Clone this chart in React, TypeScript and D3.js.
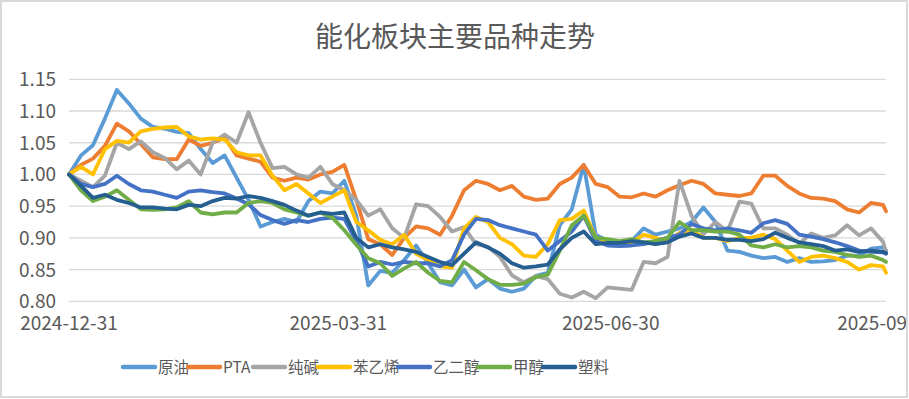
import React, { useMemo } from "react";
import * as d3 from "d3";

const WIDTH = 909;
const HEIGHT = 399;
const PLOT = { left: 69, right: 886, top: 79.3, bottom: 301.3 };
const FONT = "'Noto Sans CJK SC', 'Noto Sans', sans-serif";
const TEXT_COLOR = "#595959";
const GRID_COLOR = "#D9D9D9";

// sample dates (every 4 days)
const dates = [
  "2024-12-31", "2025-01-04", "2025-01-08", "2025-01-12", "2025-01-16", "2025-01-20", "2025-01-24", "2025-01-28", "2025-02-01", "2025-02-05",
  "2025-02-09", "2025-02-13", "2025-02-17", "2025-02-21", "2025-02-25", "2025-03-01", "2025-03-05", "2025-03-09", "2025-03-13", "2025-03-17",
  "2025-03-21", "2025-03-25", "2025-03-29", "2025-04-02", "2025-04-06", "2025-04-10", "2025-04-14", "2025-04-18", "2025-04-22", "2025-04-26",
  "2025-04-30", "2025-05-04", "2025-05-08", "2025-05-12", "2025-05-16", "2025-05-20", "2025-05-24", "2025-05-28", "2025-06-01", "2025-06-05",
  "2025-06-09", "2025-06-13", "2025-06-17", "2025-06-21", "2025-06-25", "2025-06-29", "2025-07-03", "2025-07-07", "2025-07-11", "2025-07-15",
  "2025-07-19", "2025-07-23", "2025-07-27", "2025-07-31", "2025-08-04", "2025-08-08", "2025-08-12", "2025-08-16", "2025-08-20", "2025-08-24",
  "2025-08-28", "2025-09-01", "2025-09-05", "2025-09-09", "2025-09-13", "2025-09-17", "2025-09-21", "2025-09-25", "2025-09-29", "2025-09-30",
];

const crude = [
  1.0, 1.03, 1.046, 1.088, 1.133, 1.112, 1.088, 1.075, 1.072, 1.067,
  1.065, 1.04, 1.018, 1.03, 0.995, 0.96, 0.918, 0.925, 0.93, 0.925,
  0.958, 0.973, 0.97, 0.99, 0.935, 0.825, 0.848, 0.845, 0.865, 0.888,
  0.86, 0.83, 0.825, 0.85, 0.822, 0.835, 0.82, 0.815, 0.82, 0.84,
  0.845, 0.92, 0.945, 1.015, 0.905, 0.895, 0.893, 0.895, 0.915, 0.905,
  0.91, 0.915, 0.925, 0.948, 0.925, 0.88, 0.878, 0.872, 0.868, 0.87,
  0.862, 0.868, 0.862, 0.863, 0.865, 0.872, 0.872, 0.883, 0.885, 0.88,
];

const pta = [
  1.0, 1.015, 1.025, 1.045, 1.08, 1.068, 1.048, 1.027, 1.024, 1.024,
  1.055, 1.045, 1.05, 1.058, 1.03, 1.025, 1.02, 0.995, 0.99, 0.995,
  0.992, 1.0, 1.004, 1.015, 0.96, 0.898, 0.89, 0.873, 0.9, 0.918,
  0.915, 0.905, 0.935, 0.975, 0.99, 0.985, 0.975, 0.982, 0.965, 0.96,
  0.962, 0.985, 0.995, 1.015, 0.985, 0.98, 0.965, 0.964, 0.97, 0.965,
  0.975, 0.983, 0.99, 0.985, 0.97, 0.968, 0.966, 0.97, 0.998, 0.998,
  0.982, 0.97, 0.963, 0.962, 0.958, 0.945, 0.94, 0.955, 0.952, 0.942,
];

const sodaAsh = [
  1.0, 0.99, 0.98, 0.998, 1.05, 1.04, 1.052, 1.035, 1.026, 1.008,
  1.022, 1.0, 1.05, 1.063, 1.05, 1.098, 1.05, 1.01, 1.012, 1.0,
  0.995, 1.012, 0.985, 0.975, 0.96, 0.935, 0.945, 0.915, 0.9, 0.953,
  0.95, 0.933, 0.91, 0.917, 0.89, 0.886, 0.87, 0.841, 0.83, 0.84,
  0.835, 0.812, 0.806, 0.815, 0.805, 0.822, 0.82, 0.818, 0.862, 0.86,
  0.87, 0.99, 0.935, 0.906, 0.925, 0.91, 0.957, 0.954, 0.915, 0.915,
  0.905, 0.891, 0.907, 0.9, 0.904, 0.92, 0.904, 0.915, 0.894, 0.878,
];

const styrene = [
  1.0, 1.012, 1.0, 1.04, 1.053, 1.05, 1.068, 1.072, 1.074, 1.075,
  1.06, 1.055, 1.057, 1.055, 1.035, 1.03, 1.03, 0.998, 0.975, 0.985,
  0.97, 0.955, 0.965, 0.975, 0.925, 0.912, 0.897, 0.89, 0.905, 0.875,
  0.865, 0.855, 0.853, 0.915, 0.933, 0.925, 0.9, 0.89, 0.872, 0.87,
  0.89, 0.928, 0.93, 0.943, 0.9, 0.893, 0.893, 0.893, 0.905, 0.9,
  0.893, 0.908, 0.913, 0.9, 0.9, 0.895, 0.9, 0.9, 0.905, 0.898,
  0.88, 0.862, 0.87, 0.872, 0.868, 0.862, 0.85, 0.857, 0.855, 0.845,
];

const glycol = [
  1.0, 0.985, 0.98, 0.985, 0.998, 0.985, 0.975, 0.973, 0.968, 0.963,
  0.973, 0.975, 0.972, 0.97, 0.962, 0.953, 0.936, 0.928, 0.922, 0.928,
  0.925, 0.93, 0.932, 0.93, 0.895, 0.855, 0.862, 0.858, 0.862, 0.86,
  0.86, 0.855, 0.865, 0.905, 0.93, 0.928, 0.92, 0.915, 0.91, 0.905,
  0.88, 0.895, 0.91, 0.935, 0.895, 0.888, 0.887, 0.888, 0.89, 0.895,
  0.9, 0.905, 0.922, 0.915, 0.912, 0.915, 0.912, 0.908, 0.923, 0.928,
  0.922, 0.905, 0.902, 0.898, 0.893, 0.887, 0.88, 0.878, 0.877, 0.875,
];

const methanol = [
  1.0, 0.975, 0.958, 0.965, 0.975, 0.96, 0.945, 0.944, 0.945, 0.948,
  0.958, 0.94, 0.937, 0.94, 0.94, 0.955, 0.958, 0.955, 0.945, 0.94,
  0.935, 0.94, 0.932, 0.912, 0.889, 0.868, 0.86, 0.84, 0.852, 0.862,
  0.845, 0.832, 0.83, 0.862, 0.849, 0.835, 0.826, 0.826, 0.828, 0.838,
  0.842, 0.88, 0.92, 0.935, 0.9, 0.898, 0.895, 0.898, 0.893, 0.895,
  0.9, 0.925, 0.912, 0.912, 0.91, 0.91, 0.905, 0.888, 0.885, 0.89,
  0.885, 0.887, 0.885, 0.88, 0.878, 0.873, 0.87, 0.872, 0.865, 0.862,
];

const plastic = [
  1.0, 0.982, 0.963, 0.968, 0.96, 0.955, 0.948, 0.948, 0.946, 0.945,
  0.952, 0.95, 0.958, 0.963, 0.962, 0.966, 0.963, 0.958, 0.952, 0.943,
  0.935, 0.94, 0.938, 0.94, 0.9, 0.885, 0.89, 0.885, 0.882, 0.878,
  0.87, 0.862, 0.857, 0.875, 0.893, 0.885, 0.875, 0.86, 0.853, 0.855,
  0.858, 0.882, 0.9, 0.91, 0.89, 0.892, 0.892, 0.895, 0.893, 0.89,
  0.893, 0.902, 0.907, 0.9, 0.9, 0.897, 0.897, 0.895, 0.898, 0.908,
  0.9, 0.893, 0.89, 0.887, 0.88, 0.882, 0.878, 0.88, 0.878, 0.876,
];

const seriesNames = ["原油", "PTA", "纯碱", "苯乙烯", "乙二醇", "甲醇", "塑料"];
const seriesValues = [crude, pta, sodaAsh, styrene, glycol, methanol, plastic];
const COLORS = ["#5B9BD5", "#ED7D31", "#A5A5A5", "#FFC000", "#4472C4", "#70AD47", "#255E91"];

const yTicks = [0.8, 0.85, 0.9, 0.95, 1.0, 1.05, 1.1, 1.15];
const xTicks = ["2024-12-31", "2025-03-31", "2025-06-30", "2025-09-30"];

const parseDate = d3.timeParse("%Y-%m-%d");

// rough label width so legend items sit like excel's
const labelWidth = (s: string) =>
  Array.from(s).reduce((w, ch) => w + (/[\x00-\x7F]/.test(ch) ? 10 : 15), 0);

const App = () => {
  const xScale = useMemo(
    () =>
      d3
        .scaleTime()
        .domain([parseDate("2024-12-31") as Date, parseDate("2025-09-30") as Date])
        .range([PLOT.left, PLOT.right]),
    []
  );
  const yScale = useMemo(
    () => d3.scaleLinear().domain([0.8, 1.15]).range([PLOT.bottom, PLOT.top]),
    []
  );

  const lineGen = d3
    .line<[Date, number]>()
    .x((d) => xScale(d[0]))
    .y((d) => yScale(d[1]));

  const parsedDates = dates.map((d) => parseDate(d) as Date);

  // legend layout
  let lx = 123;
  const legendItems = seriesNames.map((name, i) => {
    const item = { name, x: lx, color: COLORS[i] };
    lx += 35 + labelWidth(name);
    return item;
  });

  return (
    <div style={{ position: "absolute", left: 0, top: 0 }}>
      <svg width={WIDTH} height={HEIGHT} style={{ display: "block" }}>
        <defs>
          <clipPath id="frame-clip">
            <rect x={0} y={0} width={906} height={397} />
          </clipPath>
        </defs>
        <rect x={0} y={0} width={WIDTH} height={HEIGHT} fill="#FFFFFF" />
        <g clipPath="url(#frame-clip)">
          <text
            x={455}
            y={47}
            textAnchor="middle"
            fontFamily={FONT}
            fontSize={28}
            fill={TEXT_COLOR}
          >
            能化板块主要品种走势
          </text>

          {yTicks.map((t) => (
            <g key={t}>
              <line
                x1={PLOT.left}
                x2={PLOT.right}
                y1={yScale(t)}
                y2={yScale(t)}
                stroke={GRID_COLOR}
                strokeWidth={1.3}
              />
              <text
                x={56}
                y={yScale(t) + 7}
                textAnchor="end"
                fontFamily={FONT}
                fontSize={19}
                fill={TEXT_COLOR}
              >
                {t.toFixed(2)}
              </text>
            </g>
          ))}

          {xTicks.map((t) => (
            <text
              key={t}
              x={xScale(parseDate(t) as Date)}
              y={329.5}
              textAnchor="middle"
              fontFamily={FONT}
              fontSize={19}
              fill={TEXT_COLOR}
            >
              {t}
            </text>
          ))}

          {seriesValues.map((vals, i) => (
            <path
              key={seriesNames[i]}
              d={lineGen(parsedDates.map((d, j) => [d, vals[j]] as [Date, number])) || ""}
              fill="none"
              stroke={COLORS[i]}
              strokeWidth={3.8}
              strokeLinejoin="round"
              strokeLinecap="round"
            />
          ))}

          {legendItems.map((it) => (
            <g key={it.name}>
              <line
                x1={it.x}
                x2={it.x + 32}
                y1={367}
                y2={367}
                stroke={it.color}
                strokeWidth={4.5}
                strokeLinecap="round"
              />
              <text
                x={it.x + 35}
                y={372.5}
                fontFamily={FONT}
                fontSize={15.5}
                fill={TEXT_COLOR}
              >
                {it.name}
              </text>
            </g>
          ))}
        </g>
        <rect
          x={1}
          y={1}
          width={906}
          height={396}
          fill="none"
          stroke={GRID_COLOR}
          strokeWidth={2}
        />
      </svg>
    </div>
  );
};

export default App;
